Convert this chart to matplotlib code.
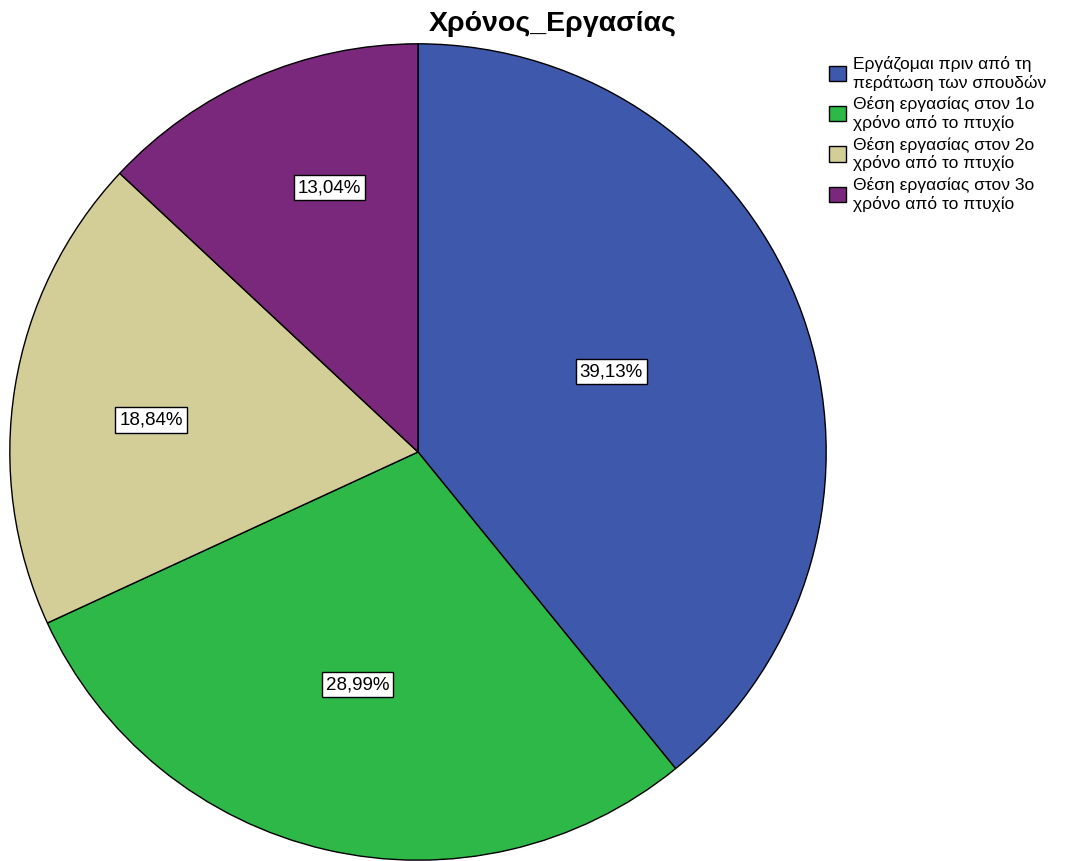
import numpy as np
import matplotlib.pyplot as plt

plt.rcParams['font.family'] = ['Liberation Sans', 'DejaVu Sans']

categories = [
    "Εργάζομαι πριν από τη\nπεράτωση των σπουδών",
    "Θέση εργασίας στον 1ο\nχρόνο από το πτυχίο",
    "Θέση εργασίας στον 2ο\nχρόνο από το πτυχίο",
    "Θέση εργασίας στον 3ο\nχρόνο από το πτυχίο",
]
percent = [39.13, 28.99, 18.84, 13.04]
colors = ["#3E58AC", "#2EB848", "#D3CE97", "#7A287B"]
# label placement: radius and angle nudge (deg) from wedge middle
label_r = [0.513, 0.589, 0.658, 0.683]
label_da = [3.0, -1.5, 2.3, -5.0]


def main():
    fig = plt.figure(figsize=(10.76, 8.61), dpi=100)
    ax = fig.add_axes([9 / 1076, 0, 818 / 1076, 818 / 861])

    wedges, _ = ax.pie(percent, colors=colors, startangle=90, counterclock=False,
                       radius=1.0, wedgeprops=dict(edgecolor='black', linewidth=1.0))
    ax.set_xlim(-1.002, 1.002)
    ax.set_ylim(-1.002, 1.002)
    ax.set_aspect('equal')

    for w, p, r, da in zip(wedges, percent, label_r, label_da):
        mid = np.deg2rad((w.theta1 + w.theta2) / 2 + da)
        ax.text(r * np.cos(mid), r * np.sin(mid), f"{p:.2f}%".replace('.', ','),
                ha='center', va='center', fontsize=13.5,
                bbox=dict(boxstyle='square,pad=0.22', fc='white', ec='black', lw=1))

    fig.text(553 / 1076, 1 - 24 / 861, "Χρόνος_Εργασίας", ha='center', va='center',
             fontsize=20.5, fontweight='bold')

    fig.legend(wedges, categories, loc='upper left', bbox_to_anchor=(822 / 1076, 1 - 49 / 861),
               frameon=False, fontsize=12.5, handlelength=1.0, handleheight=1.0,
               handletextpad=0.4, labelspacing=0.33, borderaxespad=0)

    fig.savefig("out.png", dpi=100)


if __name__ == "__main__":
    main()
